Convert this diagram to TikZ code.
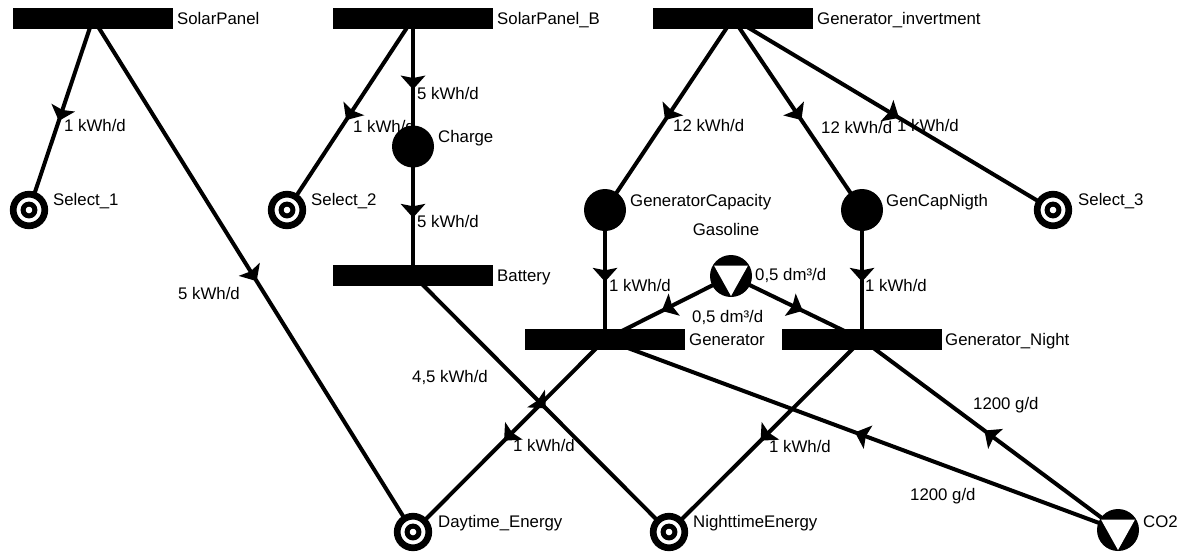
\documentclass[tikz,border=0pt]{standalone}
\usepackage{fontspec}
\setmainfont{Liberation Sans}
\usetikzlibrary{decorations.markings}
\pgfdeclarelayer{bg}
\pgfsetlayers{bg,main}

\begin{document}
\begin{tikzpicture}[x=1pt,y=-1pt,
  txt/.style={font=\fontsize{16.8}{20}\selectfont, inner sep=0pt, text height=12pt, text depth=0pt},
  lbl/.style={txt, anchor=west},
  bar/.style={rectangle, fill=black, minimum width=160pt, minimum height=21pt, inner sep=0pt},
  place/.style={circle, fill=black, minimum size=42pt, inner sep=0pt},
  sink/.style={circle, draw=black, fill=white, line width=6.7pt, minimum size=31.6pt, inner sep=0pt,
    path picture={\draw[line width=5pt] (path picture bounding box.center) circle (5.9);}},
  ext/.style={circle, fill=black, minimum size=42pt, inner sep=0pt,
    path picture={\fill[white] ([shift={(-17,-10.5)}]path picture bounding box.center) -- ++(34,0)
      -- ([shift={(0,20)}]path picture bounding box.center) -- cycle;}},
  flow/.style={line width=4pt, postaction={decorate},
    decoration={markings, mark=at position 0.5 with {\fill (7,0) -- (-7,12.5) -- (-4.5,0) -- (-7,-12.5) -- cycle;}}},
]
\useasboundingbox (0,0) rectangle (1183,554);

% transitions (bars)
\node[bar] (sp)  at (93,18.5)  {};
\node[bar] (spb) at (413,18.5) {};
\node[bar] (gi)  at (733,18.5) {};
\node[bar] (bat) at (413,275)  {};
\node[bar] (gen) at (605,339.5) {};
\node[bar] (gn)  at (862,339.5) {};
% places
\node[place] (ch)  at (413,146.5) {};
\node[place] (gc)  at (605,210) {};
\node[place] (gcn) at (862,210) {};
% sinks
\node[sink] (s1) at (29,210) {};
\node[sink] (s2) at (287,210) {};
\node[sink] (s3) at (1053,210) {};
\node[sink] (de) at (413,532) {};
\node[sink] (ne) at (669,532) {};
% external sources
\node[ext] (gas) at (731,276) {};
\node[ext] (co2) at (1118,530) {};

% node names
\node[lbl] (sp-l)  at (177,18.5) {SolarPanel};
\node[lbl] (spb-l) at (497,18.5) {SolarPanel\_B};
\node[lbl] (gi-l)  at (817,18.5) {Generator\_invertment};
\node[lbl] (bat-l) at (497,275) {Battery};
\node[lbl] (gen-l) at (689,339.5) {Generator};
\node[lbl] (gn-l)  at (945,339.5) {Generator\_Night};
\node[lbl] (ch-l)  at (438,136) {Charge};
\node[lbl] (gc-l)  at (630,200) {GeneratorCapacity};
\node[lbl] (gcn-l) at (886,200) {GenCapNigth};
\node[lbl] (s1-l)  at (53,199) {Select\_1};
\node[lbl] (s2-l)  at (311,199) {Select\_2};
\node[lbl] (s3-l)  at (1078,199) {Select\_3};
\node[lbl] (de-l)  at (438,521) {Daytime\_Energy};
\node[lbl] (ne-l)  at (693,521) {NighttimeEnergy};
\node[txt] (gas-l) at (726,229) {Gasoline};
\node[lbl] (co2-l) at (1143,521) {CO2};

\begin{pgfonlayer}{bg}
\draw[flow] (sp.center)  -- (s1.center);
\draw[flow] (sp.center)  -- (de.center);
\draw[flow] (spb.center) -- (s2.center);
\draw[flow] (spb.center) -- (ch.center);
\draw[flow] (ch.center)  -- (bat.center);
\draw[flow] (bat.center) -- (ne.center);
\draw[flow] (gi.center)  -- (gc.center);
\draw[flow] (gi.center)  -- (gcn.center);
\draw[flow] (gi.center)  -- (s3.center);
\draw[flow] (gc.center)  -- (gen.center);
\draw[flow] (gcn.center) -- (gn.center);
\draw[flow] (gas.center) -- (gen.center);
\draw[flow] (gas.center) -- (gn.center);
\draw[flow] (gen.center) -- (de.center);
\draw[flow] (gn.center)  -- (ne.center);
\draw[flow] (co2.center) -- (gen.center);
\draw[flow] (co2.center) -- (gn.center);

% flow rates
\node[lbl] (r1)  at (64,125)  {1 kWh/d};
\node[txt, anchor=east] (r2) at (240,293) {5 kWh/d};
\node[lbl] (r3)  at (353,126) {1 kWh/d};
\node[lbl] (r4)  at (417,93)  {5 kWh/d};
\node[lbl] (r5)  at (417,221) {5 kWh/d};
\node[lbl] (r6)  at (412,376) {4,5 kWh/d};
\node[lbl] (r7)  at (673,125) {12 kWh/d};
\node[lbl] (r8)  at (821,127) {12 kWh/d};
\node[lbl] (r9)  at (897,125) {1 kWh/d};
\node[lbl] (r10) at (609,285) {1 kWh/d};
\node[lbl] (r11) at (865,285) {1 kWh/d};
\node[lbl] (r12) at (692,316) {0,5 dm³/d};
\node[lbl] (r13) at (755,274) {0,5 dm³/d};
\node[lbl] (r14) at (513,445) {1 kWh/d};
\node[lbl] (r15) at (769,446) {1 kWh/d};
\node[lbl] (r16) at (910,494) {1200 g/d};
\node[lbl] (r17) at (973,403) {1200 g/d};
\end{pgfonlayer}
\end{tikzpicture}
\end{document}
